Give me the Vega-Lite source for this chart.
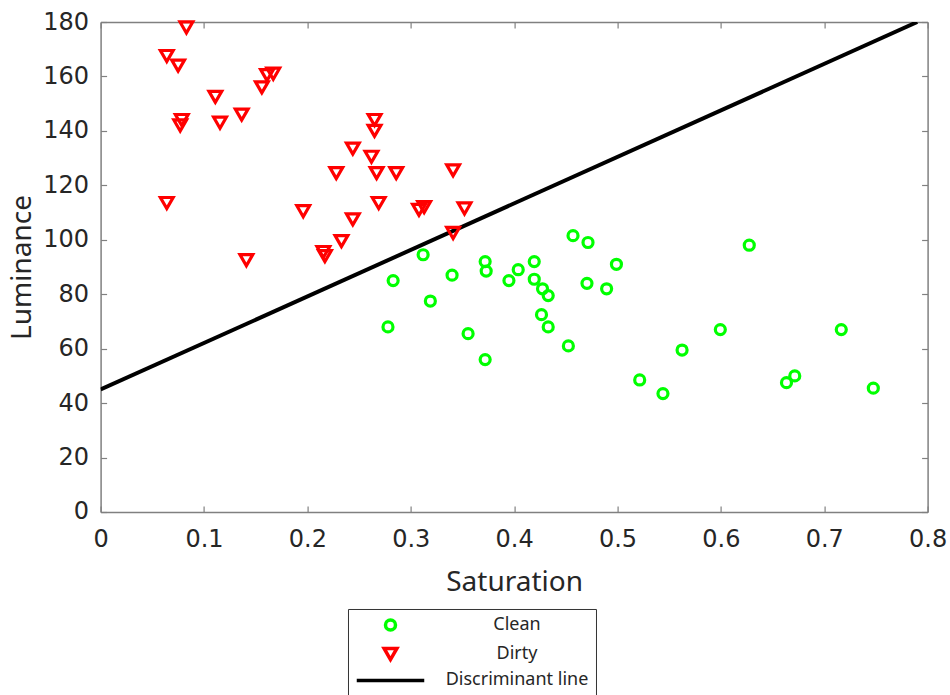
{
  "$schema": "https://vega.github.io/schema/vega-lite/v6.json",
  "width": 827,
  "height": 490,
  "autosize": {"type": "none"},
  "padding": {"left": 100.6, "top": 22, "right": 22.5, "bottom": 183},
  "background": "white",
  "datasets": {
    "pts": [
      {"sat": 0.083, "lum": 178, "cls": "Dirty"},
      {"sat": 0.064, "lum": 167.5, "cls": "Dirty"},
      {"sat": 0.075, "lum": 164, "cls": "Dirty"},
      {"sat": 0.156, "lum": 156, "cls": "Dirty"},
      {"sat": 0.161, "lum": 160.5, "cls": "Dirty"},
      {"sat": 0.167, "lum": 161, "cls": "Dirty"},
      {"sat": 0.111, "lum": 152.5, "cls": "Dirty"},
      {"sat": 0.1365, "lum": 146, "cls": "Dirty"},
      {"sat": 0.1155, "lum": 143, "cls": "Dirty"},
      {"sat": 0.0785, "lum": 144, "cls": "Dirty"},
      {"sat": 0.077, "lum": 142, "cls": "Dirty"},
      {"sat": 0.064, "lum": 113.5, "cls": "Dirty"},
      {"sat": 0.141, "lum": 92.5, "cls": "Dirty"},
      {"sat": 0.196, "lum": 110.5, "cls": "Dirty"},
      {"sat": 0.244, "lum": 133.5, "cls": "Dirty"},
      {"sat": 0.228, "lum": 124.5, "cls": "Dirty"},
      {"sat": 0.265, "lum": 144, "cls": "Dirty"},
      {"sat": 0.265, "lum": 140, "cls": "Dirty"},
      {"sat": 0.262, "lum": 130.5, "cls": "Dirty"},
      {"sat": 0.267, "lum": 124.5, "cls": "Dirty"},
      {"sat": 0.286, "lum": 124.5, "cls": "Dirty"},
      {"sat": 0.269, "lum": 113.5, "cls": "Dirty"},
      {"sat": 0.244, "lum": 107.5, "cls": "Dirty"},
      {"sat": 0.233, "lum": 99.5, "cls": "Dirty"},
      {"sat": 0.2155, "lum": 95.5, "cls": "Dirty"},
      {"sat": 0.217, "lum": 94, "cls": "Dirty"},
      {"sat": 0.341, "lum": 125.5, "cls": "Dirty"},
      {"sat": 0.352, "lum": 111.5, "cls": "Dirty"},
      {"sat": 0.308, "lum": 111, "cls": "Dirty"},
      {"sat": 0.313, "lum": 112, "cls": "Dirty"},
      {"sat": 0.341, "lum": 102.5, "cls": "Dirty"},
      {"sat": 0.312, "lum": 94.5, "cls": "Clean"},
      {"sat": 0.283, "lum": 85, "cls": "Clean"},
      {"sat": 0.34, "lum": 87, "cls": "Clean"},
      {"sat": 0.319, "lum": 77.5, "cls": "Clean"},
      {"sat": 0.278, "lum": 68, "cls": "Clean"},
      {"sat": 0.3555, "lum": 65.5, "cls": "Clean"},
      {"sat": 0.372, "lum": 56, "cls": "Clean"},
      {"sat": 0.372, "lum": 92, "cls": "Clean"},
      {"sat": 0.373, "lum": 88.5, "cls": "Clean"},
      {"sat": 0.395, "lum": 85, "cls": "Clean"},
      {"sat": 0.404, "lum": 89, "cls": "Clean"},
      {"sat": 0.4195, "lum": 92, "cls": "Clean"},
      {"sat": 0.4195, "lum": 85.5, "cls": "Clean"},
      {"sat": 0.4275, "lum": 82, "cls": "Clean"},
      {"sat": 0.433, "lum": 79.5, "cls": "Clean"},
      {"sat": 0.4265, "lum": 72.5, "cls": "Clean"},
      {"sat": 0.433, "lum": 68, "cls": "Clean"},
      {"sat": 0.4525, "lum": 61, "cls": "Clean"},
      {"sat": 0.457, "lum": 101.5, "cls": "Clean"},
      {"sat": 0.4715, "lum": 99, "cls": "Clean"},
      {"sat": 0.4705, "lum": 84, "cls": "Clean"},
      {"sat": 0.4895, "lum": 82, "cls": "Clean"},
      {"sat": 0.499, "lum": 91, "cls": "Clean"},
      {"sat": 0.5215, "lum": 48.5, "cls": "Clean"},
      {"sat": 0.544, "lum": 43.5, "cls": "Clean"},
      {"sat": 0.5625, "lum": 59.5, "cls": "Clean"},
      {"sat": 0.5995, "lum": 67, "cls": "Clean"},
      {"sat": 0.6275, "lum": 98, "cls": "Clean"},
      {"sat": 0.6635, "lum": 47.5, "cls": "Clean"},
      {"sat": 0.6715, "lum": 50, "cls": "Clean"},
      {"sat": 0.7165, "lum": 67, "cls": "Clean"},
      {"sat": 0.7475, "lum": 45.5, "cls": "Clean"}
    ],
    "line": [
      {"sat": 0, "lum": 45},
      {"sat": 0.79, "lum": 180}
    ]
  },
  "config": {
    "view": {"stroke": null},
    "axis": {
      "grid": false,
      "domainColor": "#808080",
      "domainWidth": 1.5,
      "tickColor": "#808080",
      "tickWidth": 1.2,
      "tickSize": -6,
      "labelFlush": false,
      "labelColor": "#262626",
      "labelFont": "DejaVu Sans",
      "labelFontSize": 24,
      "titleColor": "#262626",
      "titleFont": "Noto Sans",
      "titleFontSize": 28,
      "titleFontWeight": "normal"
    },
    "legend": {
      "orient": "none",
      "legendX": 247.4,
      "legendY": 587,
      "title": null,
      "padding": 7,
      "strokeColor": "#333333",
      "fillColor": "white",
      "labelFont": "Noto Sans",
      "labelFontSize": 18,
      "labelColor": "#262626",
      "labelAlign": "center",
      "labelOffset": 117,
      "symbolOffset": 26,
      "rowPadding": 4,
      "symbolStrokeWidth": 3.5
    }
  },
  "resolve": {"axis": {"x": "independent", "y": "independent"}},
  "layer": [
    {
      "data": {"name": "line"},
      "mark": {"type": "line", "color": "black", "strokeWidth": 4, "clip": true},
      "encoding": {
        "x": {"field": "sat", "type": "quantitative", "scale": {"domain": [0, 0.8], "nice": false, "zero": false},
              "axis": {"orient": "top", "labels": false, "title": null, "values": [0, 0.1, 0.2, 0.3, 0.4, 0.5, 0.6, 0.7, 0.8]}},
        "y": {"field": "lum", "type": "quantitative", "scale": {"domain": [0, 180], "nice": false},
              "axis": {"orient": "right", "labels": false, "title": null, "values": [0, 20, 40, 60, 80, 100, 120, 140, 160, 180]}}
      }
    },
    {
      "data": {"name": "pts"},
      "mark": {"type": "point", "filled": false, "strokeWidth": 3.2, "opacity": 1},
      "encoding": {
        "x": {"field": "sat", "type": "quantitative",
              "axis": {"orient": "bottom", "title": "Saturation", "format": "~g", "labelPadding": 22, "titlePadding": 17, "values": [0, 0.1, 0.2, 0.3, 0.4, 0.5, 0.6, 0.7, 0.8]}},
        "y": {"field": "lum", "type": "quantitative",
              "axis": {"orient": "left", "title": "Luminance", "labelPadding": 18, "titlePadding": 6, "values": [0, 20, 40, 60, 80, 100, 120, 140, 160, 180]}},
        "color": {"field": "cls", "type": "nominal",
                  "scale": {"domain": ["Clean", "Dirty", "Discriminant line"], "range": ["#00ff00", "#ff0000", "#000000"]}},
        "shape": {"field": "cls", "type": "nominal",
                  "scale": {"domain": ["Clean", "Dirty", "Discriminant line"], "range": ["circle", "triangle-down", "M-4.5,0L4.5,0"]}},
        "size": {"field": "cls", "type": "nominal",
                 "scale": {"domain": ["Clean", "Dirty", "Discriminant line"], "range": [100, 225, 225]}}
      }
    }
  ]
}
